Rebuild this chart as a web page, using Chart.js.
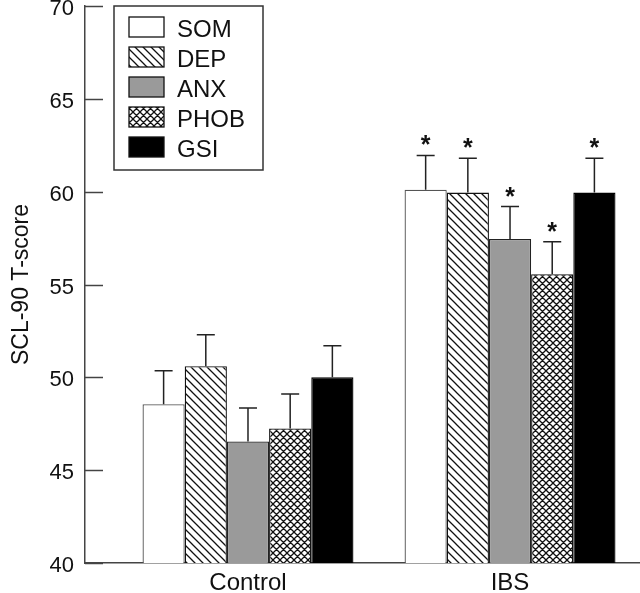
<!DOCTYPE html>
<html lang="en">
<head>
  <meta charset="UTF-8">
  <title>SCL-90 T-score</title>
  <script src="https://cdn.jsdelivr.net/npm/chart.js"></script>
  <style>
    body { margin: 0; background: #fff; }
  </style>
</head>
<body>
  <canvas id="grafico" width="640" height="593"></canvas>
<script>
  // grupos e subescalas
  const grupos = ['Control', 'IBS'];
  const posicoes = [1, 2];
  const subescalas = ['SOM', 'DEP', 'ANX', 'PHOB', 'GSI'];

  // médias (Control, IBS)
  const somMedia = [48.55, 60.1];
  const depMedia = [50.6, 59.95];
  const anxMedia = [46.55, 57.45];
  const phobMedia = [47.25, 55.55];
  const gsiMedia = [50.0, 59.95];

  // erro padrão (só a parte de cima aparece)
  const somErro = [1.8, 1.85];
  const depErro = [1.7, 1.85];
  const anxErro = [1.8, 1.75];
  const phobErro = [1.85, 1.75];
  const gsiErro = [1.7, 1.85];

  // asterisco = diferença significativa
  const significativo = [false, true];

  const yTicks = [40, 45, 50, 55, 60, 65, 70];

  const fonte = "'Liberation Sans', Arial, sans-serif";

  function criarPadrao(tipo, tam) {
    const c = document.createElement('canvas');
    c.width = tam;
    c.height = tam;
    const g = c.getContext('2d');
    g.fillStyle = '#fff';
    g.fillRect(0, 0, tam, tam);
    g.strokeStyle = '#111';
    g.lineWidth = 1.3;
    g.beginPath();
    // linhas "\"
    g.moveTo(-tam, 0); g.lineTo(tam, 2 * tam);
    g.moveTo(0, 0); g.lineTo(tam, tam);
    g.moveTo(0, -tam); g.lineTo(2 * tam, tam);
    if (tipo === 'cruzado') {
      // linhas "/"
      g.moveTo(0, tam); g.lineTo(tam, 0);
      g.moveTo(-tam, tam); g.lineTo(tam, -tam);
      g.moveTo(0, 2 * tam); g.lineTo(2 * tam, 0);
    }
    g.stroke();
    return g.createPattern(c, 'repeat');
  }

  const ctx = document.getElementById('grafico').getContext('2d');

  const medias = [somMedia, depMedia, anxMedia, phobMedia, gsiMedia];
  const erros = [somErro, depErro, anxErro, phobErro, gsiErro];
  const preenchimentos = ['#ffffff', criarPadrao('diagonal', 8), '#9a9a9a', criarPadrao('cruzado', 7), '#000000'];
  const bordas = ['#555555', '#111111', '#222222', '#111111', '#000000'];

  let datasets = [];
  for (let i = 0; i < subescalas.length; i++) {
    datasets.push({
      label: subescalas[i],
      data: posicoes.map((p, j) => ({ x: p, y: medias[i][j] })),
      erro: erros[i],
      backgroundColor: preenchimentos[i],
      borderColor: bordas[i],
      borderWidth: 1.3,
      borderSkipped: 'bottom',
      categoryPercentage: 0.805,
      barPercentage: 1.0
    });
  }

  // barras de erro + asteriscos + ticks para dentro no eixo y
  const pluginErro = {
    id: 'barrasErro',
    afterDatasetsDraw(chart) {
      const c = chart.ctx;
      const y = chart.scales.y;
      c.save();
      c.strokeStyle = '#222';
      c.lineWidth = 1.5;
      chart.data.datasets.forEach((ds, i) => {
        const meta = chart.getDatasetMeta(i);
        meta.data.forEach((barra, j) => {
          const topo = y.getPixelForValue(ds.data[j].y + ds.erro[j]);
          c.beginPath();
          c.moveTo(barra.x, barra.y);
          c.lineTo(barra.x, topo);
          c.moveTo(barra.x - 9, topo);
          c.lineTo(barra.x + 9, topo);
          c.stroke();
          if (significativo[j]) {
            c.fillStyle = '#111';
            c.font = 'bold 25px ' + fonte;
            c.textAlign = 'center';
            c.textBaseline = 'alphabetic';
            c.fillText('*', barra.x, topo - 17 + 15);
          }
        });
      });

      // ticks
      c.strokeStyle = '#444';
      c.lineWidth = 1.5;
      yTicks.forEach(v => {
        const py = Math.round(y.getPixelForValue(v)) + 0.5;
        c.beginPath();
        c.moveTo(chart.chartArea.left, py);
        c.lineTo(chart.chartArea.left + 18, py);
        c.stroke();
      });
      c.restore();
    }
  };

  // legenda com caixa, dentro da área do gráfico
  const pluginLegenda = {
    id: 'legendaCaixa',
    afterDraw(chart) {
      const c = chart.ctx;
      c.save();
      c.fillStyle = '#fff';
      c.fillRect(114, 6, 149, 164);
      c.strokeStyle = '#333';
      c.lineWidth = 1.5;
      c.strokeRect(114, 6, 149, 164);
      chart.data.datasets.forEach((ds, i) => {
        const topo = 17 + 30 * i;
        c.fillStyle = ds.backgroundColor;
        c.fillRect(129, topo, 35, 20);
        c.strokeStyle = '#111';
        c.lineWidth = 1.3;
        c.strokeRect(129, topo, 35, 20);
        c.fillStyle = '#111';
        c.font = '24px ' + fonte;
        c.textAlign = 'left';
        c.textBaseline = 'alphabetic';
        c.fillText(ds.label, 177, topo + 20);
      });
      c.restore();
    }
  };

  new Chart(ctx, {
    type: 'bar',
    data: { datasets: datasets },
    options: {
      responsive: false,
      devicePixelRatio: 1,
      animation: false,
      events: [],
      layout: { padding: { top: 6, right: 0, left: 0, bottom: 0 } },
      plugins: {
        legend: { display: false },
        tooltip: { enabled: false }
      },
      scales: {
        x: {
          type: 'linear',
          offset: false,
          min: 0.378,
          max: 2.496,
          afterBuildTicks(scale) {
            scale.ticks = posicoes.map(p => ({ value: p }));
          },
          afterFit(scale) {
            scale.height = 30;
            scale.paddingLeft = 0;
            scale.paddingRight = 0;
          },
          grid: { display: true, offset: false, drawOnChartArea: false, drawTicks: false },
          border: { color: '#444', width: 1.5 },
          ticks: {
            padding: 6,
            color: '#111',
            font: { family: fonte, size: 24 },
            callback: (v) => grupos[posicoes.indexOf(v)],
            maxRotation: 0
          }
        },
        y: {
          min: 40,
          max: 70,
          afterBuildTicks(scale) {
            scale.ticks = yTicks.map(v => ({ value: v }));
          },
          afterFit(scale) {
            scale.width = 85;
            scale.paddingTop = 0;
            scale.paddingBottom = 0;
          },
          grid: { drawOnChartArea: false, drawTicks: false },
          border: { color: '#444', width: 1.5 },
          ticks: {
            padding: 11,
            labelOffset: 3,
            color: '#111',
            font: { family: fonte, size: 22 }
          },
          title: {
            display: true,
            text: 'SCL-90 T-score',
            color: '#111',
            font: { family: fonte, size: 23 },
            padding: { top: 8, bottom: 0 }
          }
        }
      }
    },
    plugins: [pluginErro, pluginLegenda]
  });
</script>
</body>
</html>
